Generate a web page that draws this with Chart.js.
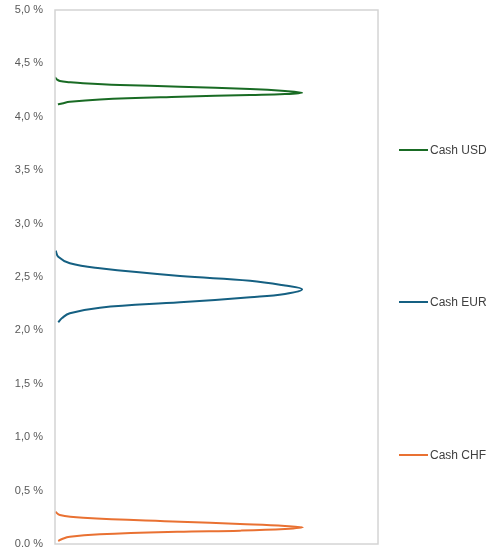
<!DOCTYPE html>
<html>
<head>
<meta charset="utf-8">
<script src="https://cdn.jsdelivr.net/npm/chart.js@4"></script>
<style>
  html, body { margin: 0; padding: 0; background: #fff; overflow: hidden; }
  #wrap { position: relative; width: 491px; height: 547px; }
  .leg { position: absolute; left: 399px; height: 16px; display: flex; align-items: center;
         font: 12px "Liberation Sans", Arial, sans-serif; color: #404040; white-space: nowrap; }
  .leg span.ln { display: inline-block; width: 29px; height: 2px; margin-right: 2px; }
</style>
</head>
<body>
<div id="wrap">
  <canvas id="chart"></canvas>
  <div class="leg" style="top:142px"><span class="ln" style="background:#196B24"></span>Cash USD</div>
  <div class="leg" style="top:294px"><span class="ln" style="background:#156082"></span>Cash EUR</div>
  <div class="leg" style="top:447px"><span class="ln" style="background:#E97132"></span>Cash CHF</div>
</div>
<script>
// density (x, hidden axis) and return in % (y)
const usdX = [0, 0.6, 1.5, 4.6, 8.7, 20.1, 38.7, 60.4, 71.2, 76.5, 71.2, 60.4, 38.7, 13.9, 4.6, 2.2, 0.9];
const usdY = [4.37, 4.35, 4.335, 4.324, 4.314, 4.298, 4.282, 4.260, 4.242, 4.226, 4.213, 4.204, 4.188, 4.163, 4.141, 4.125, 4.117];

const eurX = [0.2, 1.0, 4.6, 13.9, 38.7, 60.4, 71.2, 76.5, 71.2, 60.4, 38.7, 13.9, 4.6, 2.2, 1.0];
const eurY = [2.746, 2.690, 2.628, 2.581, 2.509, 2.465, 2.420, 2.385, 2.341, 2.310, 2.263, 2.213, 2.160, 2.116, 2.076];

const chfX = [0.1, 1.5, 8.7, 38.7, 57.3, 71.2, 76.7, 71.2, 57.3, 37.8, 13.9, 4.6, 2.2, 1.0];
const chfY = [0.302, 0.272, 0.246, 0.209, 0.187, 0.169, 0.156, 0.140, 0.125, 0.115, 0.091, 0.068, 0.047, 0.028];

const seriesNames = ['Cash USD', 'Cash EUR', 'Cash CHF'];
const yTicksMin = 0, yTicksMax = 5, yStep = 0.5;

const toPts = (xs, ys) => xs.map((x, i) => ({ x: x, y: ys[i] }));

const boxPlugin = {
  id: 'box',
  afterDraw(chart) {
    const { ctx, chartArea: a } = chart;
    ctx.save();
    ctx.strokeStyle = '#d4d4d4';
    ctx.lineWidth = 1.5;
    ctx.strokeRect(a.left, a.top, a.right - a.left, a.bottom - a.top);
    ctx.restore();
  }
};

const mk = (label, data, color) => ({
  label, data, borderColor: color, backgroundColor: color,
  showLine: true, borderWidth: 2, pointRadius: 0, tension: 0.4, fill: false
});

new Chart(document.getElementById('chart').getContext('2d'), {
  type: 'scatter',
  data: {
    datasets: [
      mk(seriesNames[0], toPts(usdX, usdY), '#196B24'),
      mk(seriesNames[1], toPts(eurX, eurY), '#156082'),
      mk(seriesNames[2], toPts(chfX, chfY), '#E97132')
    ]
  },
  options: {
    responsive: true,
    maintainAspectRatio: false,
    animation: false,
    layout: { padding: { top: 10, bottom: 3, right: 113, left: 0 } },
    plugins: { legend: { display: false }, tooltip: { enabled: false } },
    scales: {
      x: { type: 'linear', min: 0, max: 100, display: false },
      y: {
        min: yTicksMin, max: yTicksMax,
        grid: { display: false },
        border: { display: false },
        ticks: {
          stepSize: yStep,
          color: '#595959',
          padding: 4,
          font: { family: '"Liberation Sans", Arial, sans-serif', size: 11 },
          callback: v => v.toFixed(1).replace('.', ',') + ' %'
        },
        afterFit(s) { s.width = 55; s.paddingTop = 0; s.paddingBottom = 0; }
      }
    }
  },
  plugins: [boxPlugin]
});
</script>
</body>
</html>
